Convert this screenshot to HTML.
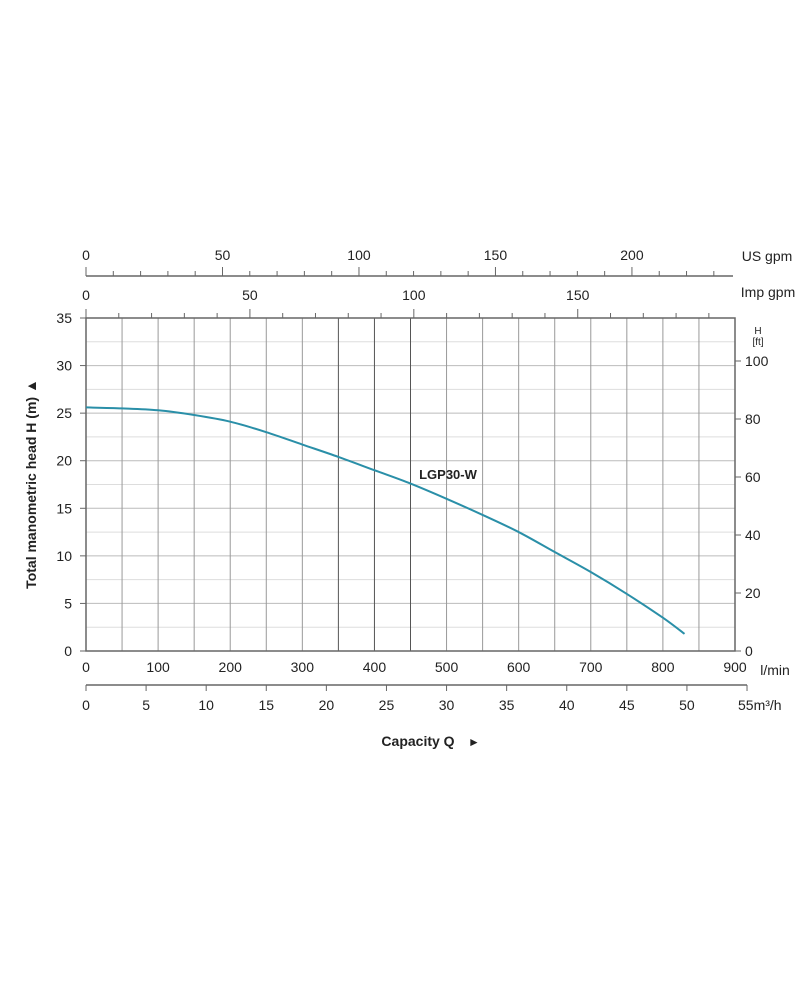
<!DOCTYPE html>
<html><head><meta charset="utf-8"><style>
body{margin:0;background:#fff;}
svg text{font-family:"Liberation Sans",Arial,sans-serif;fill:#222;}
</style></head><body>
<svg width="803" height="1000" viewBox="0 0 803 1000" xmlns="http://www.w3.org/2000/svg">
<g id="g"></g>
</svg>
<script>
const flowLmin=[0,50,100,150,200,250,300,350,400,450,500,550,600,650,700,750,800,830];
const headM=[25.6,25.5,25.3,24.8,24.1,23.0,21.7,20.4,19.0,17.6,16.0,14.3,12.5,10.4,8.3,6.0,3.5,1.8];
const lminTicks=[0,100,200,300,400,500,600,700,800,900];
const m3hTicks=[0,5,10,15,20,25,30,35,40,45,50,55];
const usTicks=[0,50,100,150,200];
const impTicks=[0,50,100,150];
const headTicks=[0,5,10,15,20,25,30,35];
const ftTicks=[0,20,40,60,80,100];
const L=86,R=735,T=318,B=651;
const X=q=>L+q*(R-L)/900, Y=h=>B-h*(B-T)/35;
const XM=v=>X(v*1000/60), XUS=v=>X(v*3.78541), XIMP=v=>X(v*4.54609), YFT=f=>Y(f*0.3048);
const g=document.getElementById('g');const NS='http://www.w3.org/2000/svg';
function el(t,a,name,txt){const e=document.createElementNS(NS,t);for(const k in a)e.setAttribute(k,a[k]);


if(txt!==undefined)e.textContent=txt;g.appendChild(e);return e;}
function ln(x1,y1,x2,y2,s,w,n){return el('line',{x1,y1,x2,y2,stroke:s,'stroke-width':w},n);}
function tx(x,y,t,n,o){const a=Object.assign({x,y,'font-size':14,'text-anchor':'middle'},o||{});return el('text',a,n,t);}
// grid
for(let h=2.5;h<35;h+=2.5)ln(L,Y(h),R,Y(h),h%5===0?'#bbb':'#ddd',1,'h-grid-line');
for(let q=50;q<900;q+=50)ln(X(q),T,X(q),B,(q>=350&&q<=450)?'#555':'#999',1,'v-grid-line');
el('rect',{x:L,y:T,width:R-L,height:B-T,fill:'none',stroke:'#666','stroke-width':1.5},'plot-frame');
// left axis
headTicks.forEach(h=>{ln(L-6,Y(h),L,Y(h),'#666',1,'y-tick');tx(L-14,Y(h)+5,h,'y-tick-label',{'text-anchor':'end'});});
el('text',{x:36,y:484,'font-size':14,'font-weight':'bold','text-anchor':'middle',transform:'rotate(-90 36 484)'},'y-axis-title','Total manometric head H (m)  ▲');
// right axis
ftTicks.forEach(f=>{ln(R,YFT(f),R+6,YFT(f),'#666',1,'ft-tick');tx(R+10,YFT(f)+5,f,'ft-tick-label',{'text-anchor':'start'});});
tx(758,334,'H','ft-axis-title',{'font-size':10});tx(758,345,'[ft]','ft-axis-unit',{'font-size':10});
// bottom l/min
lminTicks.forEach(q=>tx(X(q),672,q,'lmin-tick-label'));
tx(775,675,'l/min','lmin-unit');
// m3/h axis
ln(L,685,XM(55),685,'#666',1.5,'m3h-axis-line');
m3hTicks.forEach(v=>{ln(XM(v),685,XM(v),691,'#666',1,'m3h-tick');if(v<55)tx(XM(v),710,v,'m3h-tick-label');});
el('text',{x:738,y:710,'font-size':14,'text-anchor':'start'},'m3h-unit','55m³/h');
tx(418,746,'Capacity Q','x-axis-title',{'font-weight':'bold'});
tx(474,746,'►','x-axis-arrow',{'font-size':12});
// US gpm
ln(L,276,733,276,'#666',1.5,'usgpm-axis-line');
for(let v=0;v<=235;v+=10){const big=v%50===0;ln(XUS(v),276,XUS(v),big?267:271,'#666',1,'usgpm-tick');}
usTicks.forEach(v=>tx(XUS(v),260,v,'usgpm-tick-label'));
tx(767,261,'US gpm','usgpm-unit');
// Imp gpm
for(let v=0;v<=190;v+=10){const big=v%50===0;ln(XIMP(v),T,XIMP(v),big?309:313,'#666',1,'impgpm-tick');}
impTicks.forEach(v=>tx(XIMP(v),300,v,'impgpm-tick-label'));
tx(768,297,'Imp gpm','impgpm-unit');
// curve
const pts=flowLmin.map((q,i)=>[X(q),Y(headM[i])]);
let d='M'+pts[0][0]+','+pts[0][1];
for(let i=1;i<pts.length;i++){const p0=pts[Math.max(0,i-2)],p1=pts[i-1],p2=pts[i],p3=pts[Math.min(pts.length-1,i+1)];
d+=' C'+(p1[0]+(p2[0]-p0[0])/6)+','+(p1[1]+(p2[1]-p0[1])/6)+' '+(p2[0]-(p3[0]-p1[0])/6)+','+(p2[1]-(p3[1]-p1[1])/6)+' '+p2[0]+','+p2[1];}
el('path',{d,fill:'none',stroke:'#2a8fa8','stroke-width':2},'curve-lgp30-w');
tx(448,479,'LGP30-W','curve-label',{'font-size':13,'font-weight':'bold'});
</script>
</body></html>
